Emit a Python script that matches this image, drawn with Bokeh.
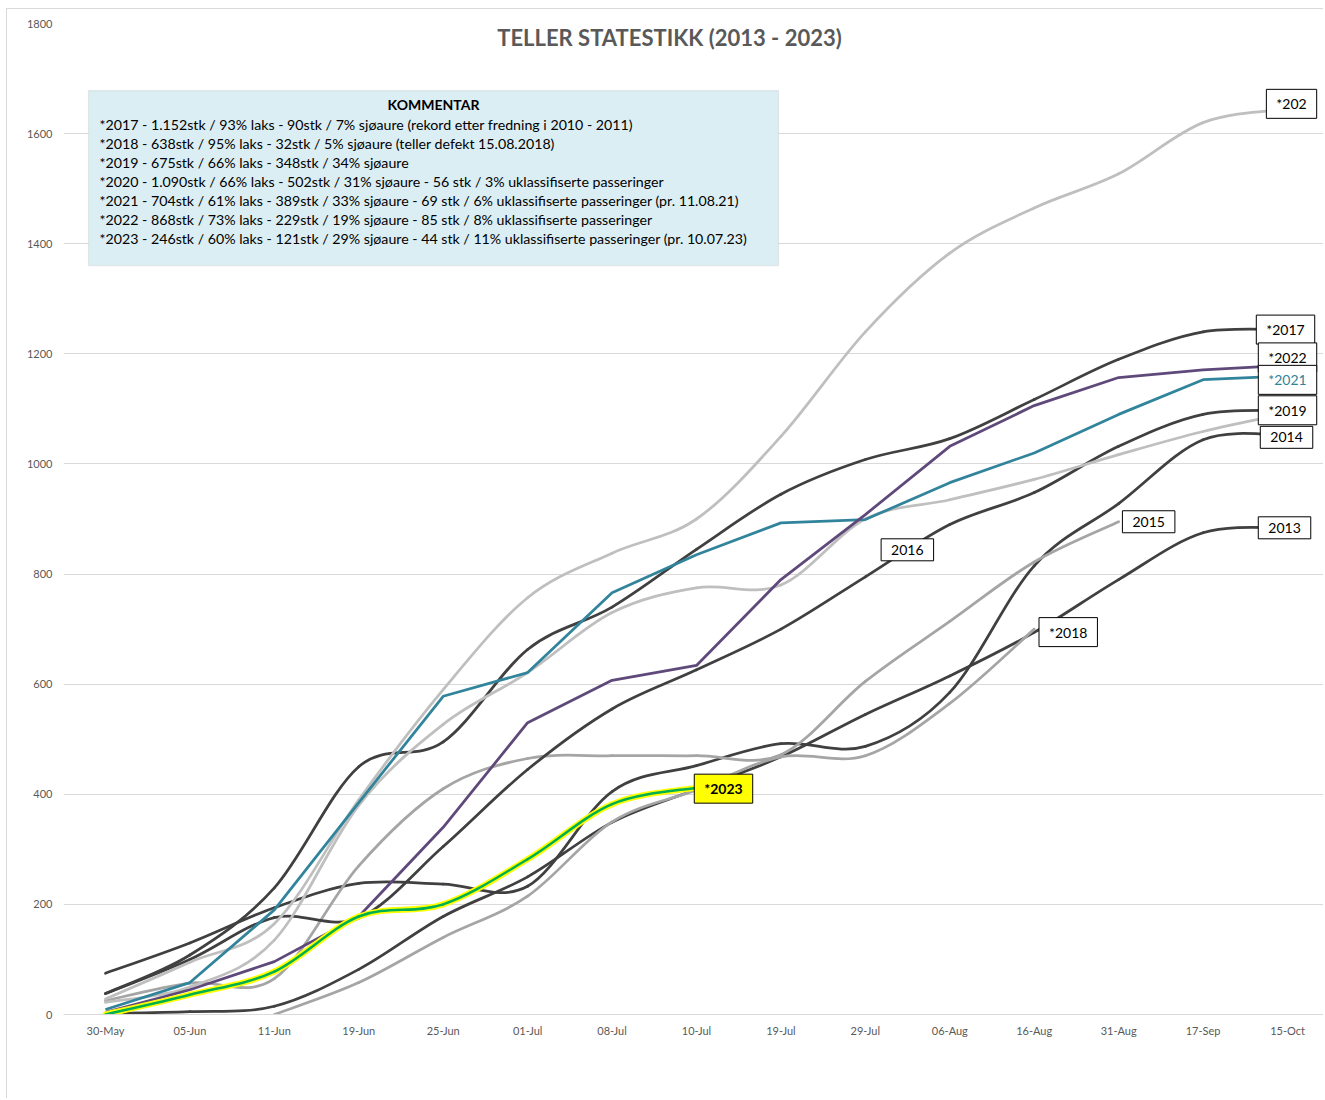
from bokeh.plotting import figure
from bokeh.models import Range1d, FixedTicker, Label, BoxAnnotation, ColumnDataSource
from bokeh.embed import file_html
from bokeh.resources import INLINE

# ---------------- data ----------------
dates = ["30-May", "05-Jun", "11-Jun", "19-Jun", "25-Jun", "01-Jul", "08-Jul", "10-Jul",
         "19-Jul", "29-Jul", "06-Aug", "16-Aug", "31-Aug", "17-Sep", "15-Oct"]

y2013 = [2, 5, 15, 82, 178, 250, 349, 409, 468, 545, 615, 694, 790, 875, 884]
y2014 = [75, 130, 194, 238, 237, 233, 405, 452, 492, 487, 585, 815, 928, 1044, 1052]
y2015 = [25, 57, 65, 270, 410, 465, 470, 470, 472, 605, 714, 822, 895]
y2016 = [38, 100, 176, 175, 305, 445, 555, 626, 700, 795, 890, 948, 1032, 1090, 1097]
y2017 = [38, 108, 230, 450, 495, 663, 740, 845, 945, 1008, 1046, 1117, 1190, 1240, 1244]
y2018 = [None, None, 0, 58, 140, 215, 350, 408, 468, 470, 565, 700]
y2019 = [22, 50, 135, 380, 527, 621, 730, 775, 780, 900, 935, 972, 1017, 1059, 1092]
y2020 = [28, 95, 165, 390, 590, 757, 838, 900, 1050, 1240, 1383, 1465, 1527, 1620, 1645]
y2021 = [9, 58, 190, 385, 578, 621, 766, 835, 893, 899, 966, 1020, 1090, 1153, 1160]
y2022 = [4, 45, 96, 178, 340, 530, 607, 634, 790, 908, 1032, 1106, 1157, 1171, 1179]
y2023 = [0, 36, 78, 178, 200, 282, 382, 412]

comment_title = "KOMMENTAR"
comment_lines = [
    "*2017 - 1.152stk / 93% laks - 90stk / 7% sjøaure (rekord etter fredning i 2010 - 2011)",
    "*2018 - 638stk / 95% laks - 32stk / 5% sjøaure (teller defekt 15.08.2018)",
    "*2019 - 675stk / 66% laks - 348stk / 34% sjøaure",
    "*2020 - 1.090stk / 66% laks - 502stk / 31% sjøaure - 56 stk / 3% uklassifiserte passeringer",
    "*2021 - 704stk / 61% laks - 389stk / 33% sjøaure - 69 stk / 6% uklassifiserte passeringer (pr. 11.08.21)",
    "*2022 - 868stk / 73% laks - 229stk / 19% sjøaure - 85 stk / 8% uklassifiserte passeringer",
    "*2023 - 246stk / 60% laks - 121stk / 29% sjøaure - 44 stk / 11% uklassifiserte passeringer (pr. 10.07.23)",
]
title_text = "TELLER STATESTIKK (2013 - 2023)"

# ---------------- styling ----------------
FONT = "Lato"
DARK = "#404040"
LIGHT = "#bfbfbf"
MED = "#a5a5a5"
TEAL = "#31849b"
PURPLE = "#5f497a"
GREEN = "#00b050"
YELLOW = "#ffff00"
LW = 2.75

p = figure(width=1317, height=1090, output_backend="svg", toolbar_location=None,
           x_range=Range1d(-0.497, 14.438), y_range=Range1d(0, 1800),
           min_border_left=56, min_border_right=0, min_border_top=14, min_border_bottom=85)
p.outline_line_color = None
p.background_fill_color = "white"
p.border_fill_color = "white"
p.styles = {"border-left": "1px solid #d9d9d9", "border-top": "1px solid #d9d9d9",
            "margin-left": "6px", "margin-top": "8px"}

p.xgrid.grid_line_color = None
p.ygrid.grid_line_color = "#d9d9d9"
p.ygrid.grid_line_width = 1

p.yaxis.ticker = FixedTicker(ticks=list(range(0, 1801, 200)))
p.yaxis.axis_line_color = None
p.yaxis.major_tick_line_color = None
p.yaxis.minor_tick_line_color = None
p.yaxis.major_label_standoff = 5
p.yaxis.major_label_text_font = FONT
p.yaxis.major_label_text_font_size = "11px"
p.yaxis.major_label_text_color = "#595959"

p.xaxis.ticker = FixedTicker(ticks=list(range(len(dates))))
p.xaxis.major_label_overrides = {i: d for i, d in enumerate(dates)}
p.xaxis.axis_line_color = "#d9d9d9"
p.xaxis.major_tick_line_color = None
p.xaxis.minor_tick_line_color = None
p.xaxis.major_label_standoff = 3
p.xaxis.major_label_text_font = FONT
p.xaxis.major_label_text_font_size = "11px"
p.xaxis.major_label_text_color = "#595959"


def smooth(vals, color, width=LW):
    pts = [(i, v) for i, v in enumerate(vals) if v is not None]
    xs = [a for a, _ in pts]
    ys = [b for _, b in pts]
    n = len(xs)
    d = dict(x0=[], y0=[], x1=[], y1=[], cx0=[], cy0=[], cx1=[], cy1=[])
    for i in range(n - 1):
        im = max(i - 1, 0)
        ip = min(i + 2, n - 1)
        d["x0"].append(xs[i]); d["y0"].append(ys[i])
        d["x1"].append(xs[i + 1]); d["y1"].append(ys[i + 1])
        d["cx0"].append(xs[i] + (xs[i + 1] - xs[im]) / 6)
        d["cy0"].append(ys[i] + (ys[i + 1] - ys[im]) / 6)
        d["cx1"].append(xs[i + 1] - (xs[ip] - xs[i]) / 6)
        d["cy1"].append(ys[i + 1] - (ys[ip] - ys[i]) / 6)
    p.bezier(x0="x0", y0="y0", x1="x1", y1="y1", cx0="cx0", cy0="cy0", cx1="cx1", cy1="cy1",
             source=ColumnDataSource(d), line_color=color, line_width=width, line_cap="round")


def straight(vals, color, width=LW):
    xs = [i for i, v in enumerate(vals) if v is not None]
    ys = [v for v in vals if v is not None]
    p.line(xs, ys, line_color=color, line_width=width, line_join="round")


smooth(y2013, DARK)
smooth(y2014, DARK)
smooth(y2015, MED)
smooth(y2016, DARK)
smooth(y2017, DARK)
smooth(y2018, MED)
smooth(y2019, LIGHT)
smooth(y2020, LIGHT)
straight(y2021, TEAL)
straight(y2022, PURPLE)
smooth(y2023, YELLOW, 6)
smooth(y2023, GREEN, 2.5)


# pixel -> data helpers for annotation placement
def dx(px):
    return (px - 106) / 84.43


def dy(py):
    return (1015 - py) / 0.5506


# title
p.add_layout(Label(x=dx(670), y=dy(38), text=title_text, text_align="center", text_baseline="middle",
                   text_font=FONT, text_font_style="bold", text_font_size="22px", text_color="#595959"))

# comment box
p.add_layout(BoxAnnotation(left=dx(89), right=dx(779), top=dy(91), bottom=dy(266),
                           fill_color="#dbeef4", fill_alpha=1, line_color="#bfbfbf", line_width=1.2,
                           level="annotation"))
p.add_layout(Label(x=dx(434), y=dy(105), text=comment_title, text_align="center", text_baseline="middle",
                   text_font=FONT, text_font_style="bold", text_font_size="14px", text_color="black"))
for k, line in enumerate(comment_lines):
    p.add_layout(Label(x=dx(100), y=dy(125 + 19 * k), text=line, text_align="left", text_baseline="middle",
                       text_font=FONT, text_font_size="14.2px", text_color="black"))


# end-of-series labels
def tag(xi, yv, text, xo=0, yo=0, color="black", fill="white", bold=False):
    p.add_layout(Label(x=xi, y=yv, x_offset=xo, y_offset=yo, text=text, text_align="center",
                       text_baseline="middle", text_font=FONT, text_font_size="14px",
                       text_font_style="bold" if bold else "normal", text_color=color,
                       background_fill_color=fill, border_line_color="black", border_line_width=1,
                       padding=(10, 6)))


tag(14, y2020[-1], "*202", xo=4, yo=5)
tag(14, y2017[-1], "*2017", xo=-2, yo=0)
tag(14, y2022[-1], "*2022", xo=0, yo=8)
tag(14, y2021[-1], "*2021", xo=0, yo=-4, color=TEAL)
tag(14, y2019[-1], "*2019", xo=0, yo=3)
tag(14, y2014[-1], "2014", xo=-1, yo=-2)
tag(14, y2013[-1], "2013", xo=-3, yo=0)
tag(12, y2015[-1], "2015", xo=30, yo=0)
tag(9, y2016[9], "2016", xo=42, yo=27)
tag(11, y2018[-1], "*2018", xo=34, yo=-3)
tag(7, y2023[-1], "*2023", xo=27, yo=-1, fill=YELLOW, bold=True)

open("out.html", "w").write(file_html(p, INLINE))
